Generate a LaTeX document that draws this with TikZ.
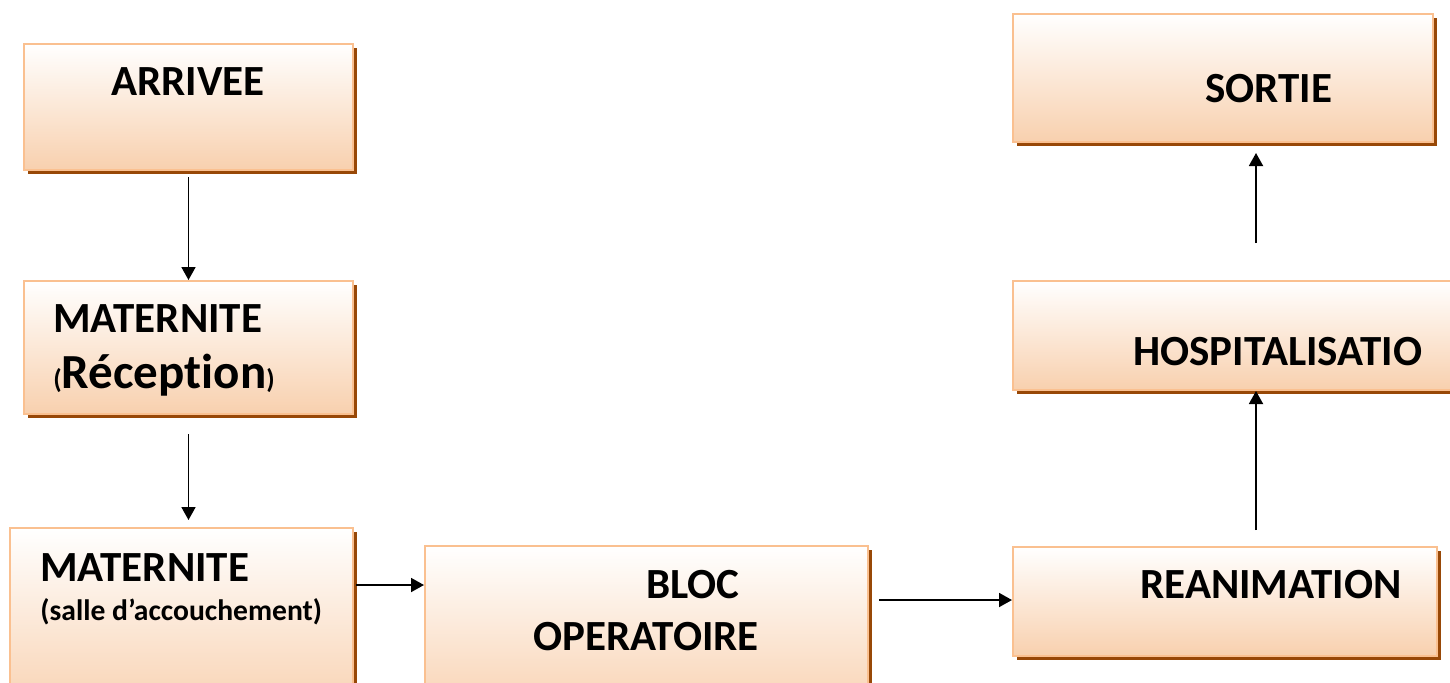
\documentclass[tikz,border=0pt]{standalone}
\usepackage{fontspec}
\setmainfont{Carlito}[Ligatures=NoCommon]
\usetikzlibrary{arrows.meta,shadows}
\definecolor{boxline}{HTML}{FAC090}
\definecolor{boxfill}{HTML}{F8D0AE}
\definecolor{boxshadow}{HTML}{984807}
\tikzset{
  stage/.style={draw=boxline,line width=1pt,top color=white,bottom color=boxfill,
    drop shadow={shadow xshift=2pt,shadow yshift=-2pt,fill=boxshadow,opacity=1}},
  big/.style={inner sep=0pt,font=\fontsize{21.5}{25}\selectfont\bfseries},
  small/.style={inner sep=0pt,font=\fontsize{14.8}{17}\selectfont\bfseries},
  flow/.style={line width=0.9pt,-{Triangle[length=6.5pt,width=7pt]}}
}
\begin{document}
\begin{tikzpicture}[x=0.5pt,y=-0.5pt]
\clip (0,0) rectangle (1450,682);
\fill[white] (0,0) rectangle (1450,682);
\draw (188.5,107) node[stage,minimum width=164.5pt,minimum height=63pt](arrivee) {};
\draw (188.5,347.5) node[stage,minimum width=164.5pt,minimum height=66.5pt](reception) {};
\draw (181.5,624) node[stage,minimum width=171.5pt,minimum height=96pt](salle) {};
\draw (646.5,633) node[stage,minimum width=221.5pt,minimum height=87pt](bloc) {};
\draw (1225,601.5) node[stage,minimum width=212pt,minimum height=54.5pt](reanim) {};
\draw (1246.5,335.5) node[stage,minimum width=233.5pt,minimum height=54.5pt](hospit) {};
\draw (1223,78) node[stage,minimum width=210pt,minimum height=64pt](sortie) {};
% texts
\draw (188,95) node[big,anchor=base](tarrivee) {ARRIVEE};
\draw (53,332) node[big,anchor=base west](trecep1) {MATERNITE};
\draw (53,388) node[big,anchor=base west](trecep2) {{\fontsize{13.5}{16}\selectfont(}{\fontsize{24.5}{28}\selectfont Réception}{\fontsize{13.5}{16}\selectfont)}};
\draw (40,581) node[big,anchor=base west](tsalle1) {MATERNITE};
\draw (40,620) node[small,anchor=base west](tsalle2) {(salle d’accouchement)};
\draw (693,598) node[big,anchor=base](tbloc1) {BLOC};
\draw (646,650) node[big,anchor=base](tbloc2) {OPERATOIRE};
\draw (1140,598) node[big,anchor=base west](treanim) {REANIMATION};
\draw (1133,365) node[big,anchor=base west](thospit) {HOSPITALISATIO};
\draw (1205,102) node[big,anchor=base west](tsortie) {SORTIE};
% arrows
\coordinate (r0) at (1256,530);
\coordinate (h0) at (1256,243);
\draw[flow,shorten <=3pt] (arrivee.south) -- (reception.north);
\draw[flow,shorten <=9.5pt,shorten >=3.5pt] (reception.south) -- (salle.north -| reception.south);
\draw[flow,shorten <=1pt] (salle.east |- 0,585) -- (bloc.west |- 0,585);
\draw[flow,shorten <=5pt] (bloc.east |- 0,600) -- (reanim.west |- 0,600);
\draw[flow] (r0) -- (hospit.south -| r0);
\draw[flow,shorten >=5pt] (h0) -- (sortie.south -| h0);
\end{tikzpicture}
\end{document}
